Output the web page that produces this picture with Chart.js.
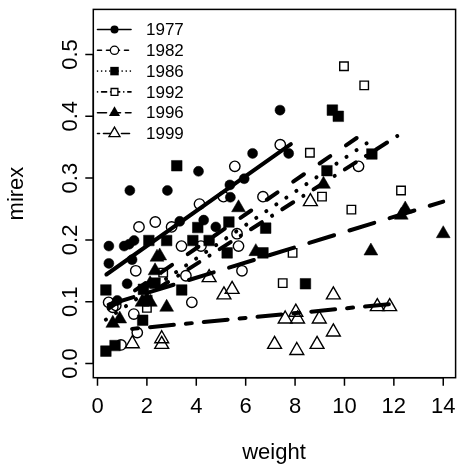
<!DOCTYPE html>
<html>
<head>
<meta charset="utf-8">
<script src="https://cdn.jsdelivr.net/npm/chart.js@4.4.1/dist/chart.umd.min.js"></script>
<style>
  html, body { margin: 0; padding: 0; background: #fff; }
  #wrap { width: 465px; height: 468px; }
</style>
</head>
<body>
<div id="wrap"><canvas id="c" width="465" height="468"></canvas></div>
<script>
// mirex concentration against fish weight, one group per sampling year
const years = ['1977', '1982', '1986', '1992', '1996', '1999'];

const w1977 = [0.46, 0.46, 0.8, 1.08, 1.28, 1.48, 1.2, 1.4, 1.31, 2.83, 4.09, 3.33, 4.3, 4.79, 5.36, 5.38, 5.94, 6.28, 7.39, 7.74];
const m1977 = [0.19, 0.162, 0.102, 0.19, 0.193, 0.199, 0.129, 0.168, 0.28, 0.28, 0.311, 0.23, 0.232, 0.221, 0.289, 0.269, 0.299, 0.34, 0.41, 0.34];

const w1982 = [0.45, 0.62, 0.74, 0.95, 1.47, 1.55, 1.61, 1.68, 2.34, 3.0, 3.4, 3.58, 3.82, 4.13, 4.19, 5.1, 5.56, 5.65, 5.71, 5.85, 6.7, 7.4, 10.57];
const m1982 = [0.099, 0.091, 0.094, 0.03, 0.08, 0.15, 0.05, 0.221, 0.229, 0.221, 0.19, 0.142, 0.099, 0.258, 0.19, 0.27, 0.319, 0.21, 0.19, 0.15, 0.27, 0.354, 0.319];

const w1986 = [0.34, 0.34, 0.71, 1.86, 1.83, 2.0, 2.08, 2.33, 2.8, 3.21, 3.41, 3.86, 4.06, 4.52, 5.32, 5.25, 6.7, 6.81, 8.42, 9.29, 9.51, 9.75, 11.11];
const m1986 = [0.119, 0.02, 0.029, 0.12, 0.07, 0.102, 0.199, 0.13, 0.199, 0.32, 0.119, 0.199, 0.22, 0.199, 0.229, 0.179, 0.179, 0.219, 0.129, 0.312, 0.41, 0.40, 0.339];

const w1992 = [2.0, 2.66, 7.5, 7.9, 8.6, 9.09, 9.98, 10.28, 10.8, 12.29];
const m1992 = [0.09, 0.147, 0.13, 0.179, 0.341, 0.27, 0.481, 0.249, 0.45, 0.28];

const w1996 = [0.62, 0.9, 1.8, 2.14, 2.13, 2.33, 2.52, 2.41, 2.8, 5.71, 6.41, 9.15, 11.07, 12.3, 12.46, 14.0];
const m1996 = [0.065, 0.072, 0.099, 0.099, 0.129, 0.15, 0.174, 0.172, 0.091, 0.252, 0.181, 0.29, 0.182, 0.24, 0.25, 0.21];

const w1999 = [1.41, 2.6, 2.6, 4.52, 5.12, 5.45, 7.17, 7.6, 8.03, 8.1, 8.07, 8.89, 8.98, 9.55, 9.55, 11.33, 11.83, 8.62];
const m1999 = [0.032, 0.04, 0.031, 0.139, 0.111, 0.12, 0.031, 0.072, 0.083, 0.072, 0.021, 0.031, 0.072, 0.051, 0.111, 0.092, 0.092, 0.262];

// fitted lines: weight at each end, mirex at each end
const fitW = {
  '1977': [0.36, 7.83], '1982': [0.45, 10.57], '1986': [0.34, 11.11],
  '1992': [2.0, 12.29], '1996': [0.45, 14.0], '1999': [1.4, 11.8]
};
const fitM = {
  '1977': [0.144, 0.355], '1982': [0.089, 0.367], '1986': [0.071, 0.362],
  '1992': [0.11, 0.372], '1996': [0.095, 0.262], '1999': [0.056, 0.096]
};

const xTicks = [0, 2, 4, 6, 8, 10, 12, 14];
const yTicks = [0.0, 0.1, 0.2, 0.3, 0.4, 0.5];

const groups = {
  '1977': { w: w1977, m: m1977, style: 'circle', fill: true, r: 5, dash: [] },
  '1982': { w: w1982, m: m1982, style: 'circle', fill: false, r: 5.2, dash: [13, 19] },
  '1986': { w: w1986, m: m1986, style: 'rect', fill: true, r: 7.5, dash: [0.1, 12] },
  '1992': { w: w1992, m: m1992, style: 'rect', fill: false, r: 6, dash: [0.1, 12, 13, 12] },
  '1996': { w: w1996, m: m1996, style: 'triangle', fill: true, r: 8, dash: [26, 16] },
  '1999': { w: w1999, m: m1999, style: 'triangle', fill: false, r: 8, dash: [6, 12, 24, 12] }
};
const legendDash = {
  '1977': [], '1982': [4, 5], '1986': [0.1, 4], '1992': [0.1, 4, 5, 4], '1996': [9, 5], '1999': [2, 4, 8, 4]
};

function pts(w, m){ return w.map((v, i) => ({ x: v, y: m[i] })); }

const FONT = '"Liberation Sans", Arial, Helvetica, sans-serif';

const lineSets = years.map(y => ({
  type: 'line',
  data: pts(fitW[y], fitM[y]),
  borderColor: '#000',
  borderWidth: 4,
  borderDash: groups[y].dash,
  borderCapStyle: 'round',
  pointRadius: 0,
  fill: false,
  tension: 0
}));

const pointSets = years.map(y => {
  const g = groups[y];
  return {
    type: 'scatter',
    data: pts(g.w, g.m),
    pointStyle: g.style,
    pointRadius: g.r,
    pointHoverRadius: g.r,
    pointBackgroundColor: g.fill ? '#000' : 'rgba(0,0,0,0)',
    pointBorderColor: '#000',
    pointBorderWidth: g.fill ? 0.5 : 1.4,
    showLine: false
  };
});

// R-style frame, axes, labels and legend
const frame = {
  id: 'frame',
  afterDraw(chart){
    const { ctx, chartArea: a, scales: { x, y } } = chart;
    ctx.save();
    ctx.strokeStyle = '#000';
    ctx.fillStyle = '#000';
    ctx.lineWidth = 1.5;
    ctx.setLineDash([]);
    ctx.strokeRect(a.left, a.top, a.right - a.left, a.bottom - a.top);

    // x axis
    ctx.beginPath();
    ctx.moveTo(x.getPixelForValue(xTicks[0]), a.bottom);
    ctx.lineTo(x.getPixelForValue(xTicks[xTicks.length - 1]), a.bottom);
    xTicks.forEach(t => {
      const px = x.getPixelForValue(t);
      ctx.moveTo(px, a.bottom); ctx.lineTo(px, a.bottom + 8);
    });
    ctx.stroke();
    ctx.font = '22px ' + FONT;
    ctx.textAlign = 'center';
    ctx.textBaseline = 'middle';
    xTicks.forEach(t => ctx.fillText(String(t), x.getPixelForValue(t), a.bottom + 29));

    // y axis
    ctx.beginPath();
    ctx.moveTo(a.left, y.getPixelForValue(yTicks[0]));
    ctx.lineTo(a.left, y.getPixelForValue(yTicks[yTicks.length - 1]));
    yTicks.forEach(t => {
      const py = y.getPixelForValue(t);
      ctx.moveTo(a.left, py); ctx.lineTo(a.left - 8, py);
    });
    ctx.stroke();
    yTicks.forEach(t => {
      ctx.save();
      ctx.translate(a.left - 22, y.getPixelForValue(t));
      ctx.rotate(-Math.PI / 2);
      ctx.fillText(t.toFixed(1), 0, 0);
      ctx.restore();
    });

    // axis titles
    ctx.fillText('weight', (a.left + a.right) / 2 - 0.5, 453);
    ctx.save();
    ctx.translate(17, (a.top + a.bottom) / 2);
    ctx.rotate(-Math.PI / 2);
    ctx.fillText('mirex', 0, 0);
    ctx.restore();

    // legend
    ctx.font = '17px ' + FONT;
    ctx.textAlign = 'left';
    years.forEach((yr, i) => {
      const g = groups[yr];
      const ly = 29.5 + i * 20.8;
      ctx.lineWidth = 1.6;
      ctx.lineCap = 'round';
      ctx.setLineDash(legendDash[yr]);
      ctx.beginPath();
      ctx.moveTo(97.5, ly); ctx.lineTo(131, ly);
      ctx.stroke();
      ctx.setLineDash([]);
      drawMark(ctx, g.style, g.fill, 114.5, ly, g.r * 0.8);
      ctx.fillText(yr, 146, ly + 1);
    });
    ctx.restore();
  }
};

function drawMark(ctx, style, fill, cx, cy, r){
  ctx.beginPath();
  if (style === 'circle') {
    ctx.arc(cx, cy, r, 0, Math.PI * 2);
  } else if (style === 'rect') {
    const h = r * Math.SQRT1_2;
    ctx.rect(cx - h, cy - h, 2 * h, 2 * h);
  } else {
    ctx.moveTo(cx, cy - r);
    ctx.lineTo(cx + r * Math.sqrt(3) / 2, cy + r / 2);
    ctx.lineTo(cx - r * Math.sqrt(3) / 2, cy + r / 2);
    ctx.closePath();
  }
  if (fill) { ctx.fillStyle = '#000'; ctx.fill(); }
  else { ctx.fillStyle = '#fff'; ctx.fill(); ctx.lineWidth = 1.3; ctx.stroke(); }
  ctx.fillStyle = '#000';
}

new Chart(document.getElementById('c'), {
  type: 'scatter',
  data: { datasets: lineSets.concat(pointSets) },
  options: {
    responsive: false,
    animation: false,
    devicePixelRatio: 1,
    layout: { padding: { left: 93.3, right: 2, top: 7, bottom: 90.3 } },
    plugins: { legend: { display: false }, tooltip: { enabled: false } },
    scales: {
      x: { type: 'linear', min: -0.17, max: 14.5, display: false },
      y: { type: 'linear', min: -0.023, max: 0.573, display: false }
    }
  },
  plugins: [frame]
});
</script>
</body>
</html>
